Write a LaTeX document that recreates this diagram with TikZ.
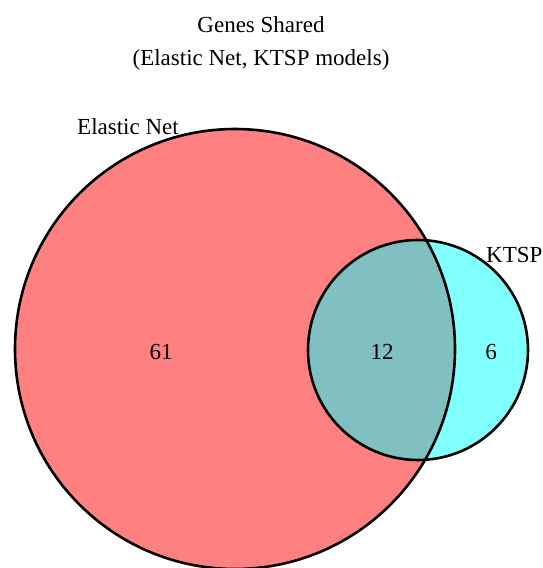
\documentclass[tikz,border=0pt]{standalone}
\usepackage{fontspec}
\setmainfont{Liberation Serif}
\begin{document}
\begin{tikzpicture}[x=1pt,y=-1pt,
  lbl/.style={font=\fontsize{23}{27}\selectfont, inner sep=0pt},
  ring/.style={draw=black, line width=2.6pt}]
\useasboundingbox (0,0) rectangle (542,568);
\definecolor{setA}{HTML}{FF8080}
\definecolor{setB}{HTML}{80FFFF}
\definecolor{setAB}{HTML}{80C0C0}
% set regions
\coordinate (ca) at (235,349);
\coordinate (cb) at (418,350);
\fill[setA] (ca) circle[radius=220];
\fill[setB] (cb) circle[radius=110];
\begin{scope}
  \clip (ca) circle[radius=220];
  \fill[setAB] (cb) circle[radius=110];
\end{scope}
\draw[ring] (ca) circle[radius=220];
\draw[ring] (cb) circle[radius=110];
% titles
\node[lbl] (t1) at (261,25) {Genes Shared};
\node[lbl] (t2) at (261,60) {(Elastic Net, KTSP models)};
% set names
\node[lbl, anchor=base west] (na) at (77,134) {Elastic Net};
\node[lbl, anchor=base west] (nb) at (486,262) {KTSP};
% counts
\node[lbl] (n1) at (161,352) {61};
\node[lbl] (n2) at (382,352) {12};
\node[lbl] (n3) at (491,352) {6};
\end{tikzpicture}
\end{document}
